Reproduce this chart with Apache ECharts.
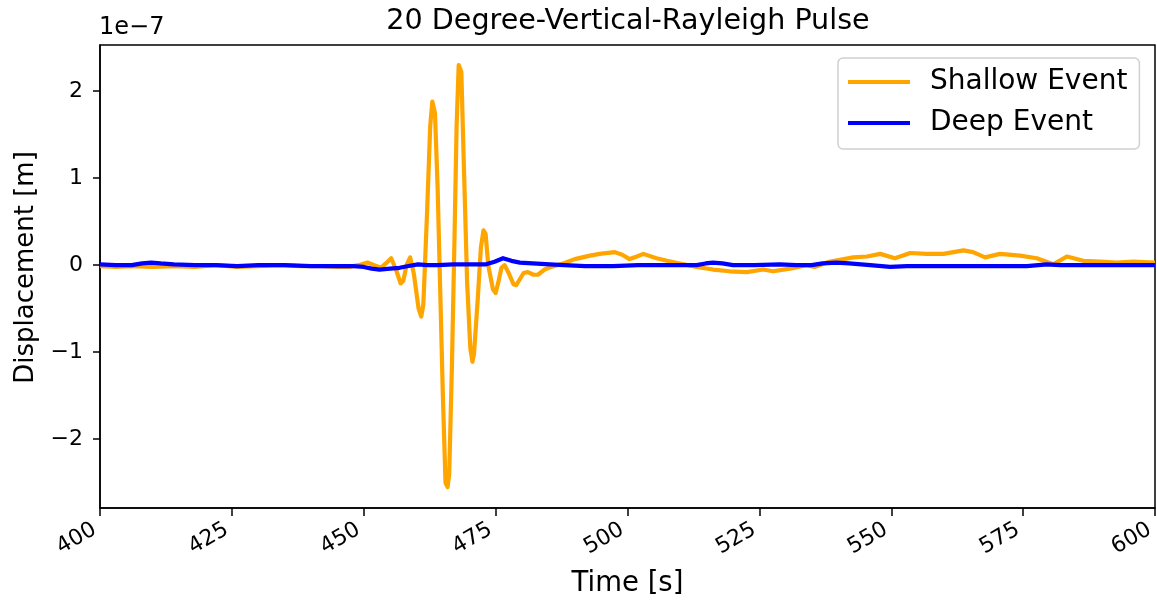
<!DOCTYPE html>
<html>
<head>
<meta charset="utf-8">
<script src="https://cdn.jsdelivr.net/npm/echarts@6/dist/echarts.min.js"></script>
<style>
  html, body { margin: 0; padding: 0; background: #fff; }
  #chart { width: 1157px; height: 603px; }
</style>
</head>
<body>
<div id="chart"></div>
<script>
// Vertical-component Rayleigh pulse at 20 degrees, displacement in units of 1e-7 m
const shallowTime = [400, 403, 406, 410, 414, 418, 422, 426, 430, 434, 438, 442, 445, 447.3, 449, 450.7, 452, 453.2, 454.2, 455.2, 456.1, 457.0, 457.5, 458.1, 458.8, 459.5, 460.4, 460.9, 461.3, 462.0, 462.6, 463.0, 463.5, 464.0, 464.5, 465.0, 465.5, 465.9, 466.2, 466.7, 467.2, 467.6, 468.0, 468.5, 469.0, 469.6, 470.2, 470.6, 470.9, 471.6, 472.2, 472.7, 473.1, 473.6, 474.5, 475.0, 475.5, 476.1, 476.7, 477.4, 478.4, 478.9, 479.5, 480.3, 481.1, 482.2, 483.0, 484.3, 485.5, 487.8, 490, 492.9, 494.7, 497.6, 499, 500.4, 501.8, 503.0, 505.5, 507.5, 509.9, 513.1, 516.2, 519.4, 522.6, 525.7, 527.6, 530.8, 533.9, 535.5, 538.2, 542.8, 545.4, 547.9, 550.7, 553.6, 556.7, 559.9, 563.7, 565.5, 567.8, 570.6, 574.4, 577.6, 580.7, 583.3, 586.4, 589.6, 592.7, 595.9, 600];
const shallowDisp = [-0.01, -0.02, -0.01, -0.02, -0.01, -0.02, 0.0, -0.02, -0.01, 0.0, -0.01, -0.01, -0.02, -0.02, 0.0, 0.03, 0.0, -0.03, 0.02, 0.08, -0.05, -0.21, -0.18, 0.0, 0.09, -0.1, -0.5, -0.59, -0.45, 0.6, 1.6, 1.88, 1.75, 0.9, -0.3, -1.5, -2.5, -2.55, -2.4, -1.2, 0.3, 1.6, 2.30, 2.22, 1.1, -0.2, -0.95, -1.11, -1.02, -0.4, 0.2, 0.40, 0.36, 0.0, -0.28, -0.32, -0.2, -0.03, 0.0, -0.08, -0.22, -0.23, -0.17, -0.09, -0.08, -0.11, -0.11, -0.05, -0.02, 0.02, 0.07, 0.11, 0.13, 0.15, 0.12, 0.07, 0.10, 0.13, 0.08, 0.05, 0.02, -0.02, -0.05, -0.07, -0.08, -0.05, -0.07, -0.04, 0.0, -0.02, 0.04, 0.09, 0.10, 0.13, 0.08, 0.14, 0.13, 0.13, 0.17, 0.15, 0.09, 0.13, 0.11, 0.08, 0.01, 0.10, 0.05, 0.04, 0.03, 0.04, 0.03];

const deepTime = [400, 403, 406, 408, 409.7, 411.5, 414, 418, 422, 426, 430, 435, 440, 445, 448, 450, 451.5, 453, 455, 456.8, 458.5, 460.3, 462, 464, 467, 470.4, 473.2, 474.8, 476.4, 478, 479.6, 482, 485.3, 488, 492, 497.3, 502, 506.8, 513.1, 514.8, 516.2, 518, 520, 524, 528.9, 532, 534.9, 537, 539.6, 542, 546, 549.8, 553, 557.4, 565, 570.6, 575.7, 579.5, 582, 590, 600];
const deepDisp = [0.01, 0.0, 0.0, 0.02, 0.03, 0.02, 0.01, 0.0, 0.0, -0.01, 0.0, 0.0, -0.01, -0.01, -0.01, -0.02, -0.04, -0.05, -0.04, -0.03, -0.01, 0.01, 0.0, 0.0, 0.01, 0.01, 0.01, 0.04, 0.08, 0.05, 0.03, 0.02, 0.01, 0.0, -0.01, -0.01, 0.0, 0.0, 0.0, 0.02, 0.03, 0.02, 0.0, 0.0, 0.01, 0.0, 0.0, 0.02, 0.03, 0.02, 0.0, -0.02, -0.01, -0.01, -0.01, -0.01, -0.01, 0.01, 0.0, 0.0, 0.0];

const xTicks = [400, 425, 450, 475, 500, 525, 550, 575, 600];
const yTicks = [-2, -1, 0, 1, 2];

const seriesNames = ['Shallow Event', 'Deep Event'];
const chartTitle = '20 Degree-Vertical-Rayleigh Pulse';
const yScaleNote = '1e\u22127';

const FONT = 'DejaVu Sans';
const pairs = (xs, ys) => xs.map((x, i) => [x, ys[i]]);
const fmtNum = v => (v < 0 ? '\u2212' + Math.abs(v) : String(v));

const chart = echarts.init(document.getElementById('chart'), null, { renderer: 'canvas' });

chart.setOption({
  animation: false,
  backgroundColor: '#ffffff',
  grid: {
    left: 100, right: 2, top: 45, bottom: 95,
    outerBoundsMode: 'none', containLabel: false,
    show: true, borderColor: '#000', borderWidth: 1.5, backgroundColor: 'transparent'
  },
  graphic: [
    {
      type: 'text', x: 628, y: 7,
      style: { text: chartTitle, font: '28.6px "' + FONT + '"', fill: '#000', align: 'center', verticalAlign: 'top' }
    },
    {
      type: 'text', x: 99, y: 16,
      style: { text: yScaleNote, font: '24px "' + FONT + '"', fill: '#000', align: 'left', verticalAlign: 'top' }
    }
  ],
  legend: {
    orient: 'vertical',
    left: 838, top: 58,
    icon: 'rect',
    itemWidth: 62, itemHeight: 4,
    itemGap: 11,
    padding: [9, 12, 11, 10],
    backgroundColor: '#fff',
    borderColor: '#d0d0d0', borderWidth: 1.5, borderRadius: 5,
    textStyle: { fontFamily: FONT, fontSize: 28, color: '#000', lineHeight: 30, padding: [0, 0, 0, 15] },
    data: seriesNames
  },
  xAxis: {
    type: 'value', min: 400, max: 600, interval: 25,
    name: 'Time [s]', nameLocation: 'middle', nameGap: 62,
    nameTextStyle: { fontFamily: FONT, fontSize: 27.5, color: '#000' },
    axisLine: { show: true, onZero: false, lineStyle: { color: '#000', width: 1.5 } },
    axisTick: { show: true, inside: false, length: 8, lineStyle: { color: '#000', width: 1.5 } },
    axisLabel: {
      rotate: 30, margin: 17, fontFamily: FONT, fontSize: 22, color: '#000',
      padding: [0, 6, 0, 0],
      customValues: xTicks, formatter: v => String(v)
    },
    splitLine: { show: false }
  },
  yAxis: {
    type: 'value', min: -2.79, max: 2.53,
    name: 'Displacement [m]', nameLocation: 'middle', nameGap: 60, nameRotate: 90,
    nameTextStyle: { fontFamily: FONT, fontSize: 26, color: '#000', padding: [0, 0, 0, 18] },
    axisLine: { show: true, onZero: false, lineStyle: { color: '#000', width: 1.5 } },
    axisTick: { show: true, inside: false, length: 7, customValues: yTicks, lineStyle: { color: '#000', width: 1.5 } },
    axisLabel: {
      margin: 17, fontFamily: FONT, fontSize: 22, color: '#000',
      customValues: yTicks, formatter: v => fmtNum(v)
    },
    splitLine: { show: false }
  },
  series: [
    {
      name: seriesNames[0], type: 'line', data: pairs(shallowTime, shallowDisp),
      showSymbol: false, smooth: false, color: '#FFA500',
      lineStyle: { color: '#FFA500', width: 4.2, join: 'round' }, z: 2
    },
    {
      name: seriesNames[1], type: 'line', data: pairs(deepTime, deepDisp),
      showSymbol: false, smooth: false, color: '#0000FF',
      lineStyle: { color: '#0000FF', width: 4.2, join: 'round' }, z: 3
    }
  ]
});
</script>
</body>
</html>
